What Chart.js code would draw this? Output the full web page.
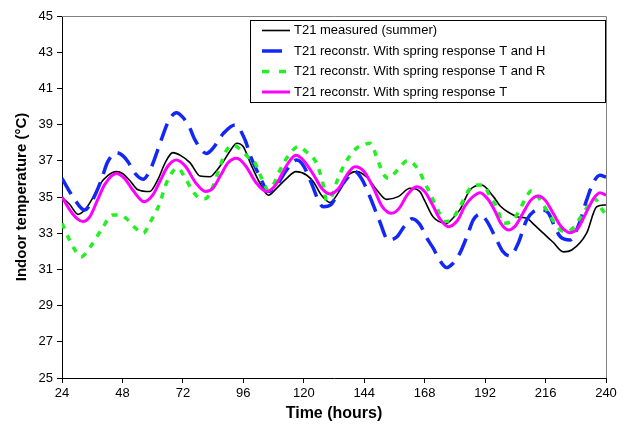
<!DOCTYPE html>
<html>
<head>
<meta charset="utf-8">
<script src="https://cdn.jsdelivr.net/npm/chart.js@4/dist/chart.umd.min.js"></script>
<style>
  html, body { margin: 0; padding: 0; background: #fff; }
  #wrap { width: 629px; height: 428px; }
</style>
</head>
<body>
<div id="wrap"><canvas id="chart" width="629" height="428"></canvas></div>
<script>
// values: hours and indoor temperature (°C)
const xTicks = [24, 48, 72, 96, 120, 144, 168, 192, 216, 240];
const yTicks = [25, 27, 29, 31, 33, 35, 37, 39, 41, 43, 45];

const measuredHours = [24, 27, 30.4, 33, 36, 39, 42.3, 45.6, 48, 51, 54.2, 58.8, 62, 65, 68, 71, 74.8, 78.8, 82.8, 85, 88, 91, 93.4, 96, 99, 102.6, 105.9, 109.2, 113, 116.9, 121.2, 124, 127, 130.4, 134, 137, 141, 145, 149, 152.9, 157.5, 162.2, 166.1, 168, 171.4, 176.7, 179, 182, 186, 190.6, 195.3, 198, 201.9, 205, 208.5, 212, 215.1, 219, 223.1, 226.4, 232.3, 236.3, 240];
const measuredTemp = [34.98, 34.6, 34.04, 34.28, 34.9, 35.7, 36.2, 36.4, 36.3, 35.9, 35.4, 35.3, 35.94, 36.9, 37.45, 37.3, 36.9, 36.16, 36.12, 36.4, 36.95, 37.6, 37.97, 37.78, 36.8, 35.76, 35.1, 35.48, 36.0, 36.4, 36.2, 35.8, 35.1, 34.7, 35.3, 36.12, 36.4, 36.1, 35.39, 34.87, 35.02, 35.48, 35.3, 34.8, 33.9, 33.55, 33.8, 34.3, 35.39, 35.66, 35.02, 34.5, 34.1, 33.9, 33.82, 33.4, 33.0, 32.5, 31.97, 32.07, 33.0, 34.46, 34.56];

const thHours = [24, 28.4, 33, 36, 39.6, 42, 45.6, 48, 50.2, 53, 56.2, 59, 63.4, 66, 69.4, 72, 74.8, 76.8, 81.4, 84, 88, 92.7, 96.7, 99, 102.6, 105.9, 109, 113.2, 117.2, 120, 122.5, 127.8, 131, 134, 137, 140.3, 143, 146.3, 150, 153.6, 157, 160, 163, 166, 169, 171.4, 174, 176.7, 179, 182, 185, 187.3, 190, 193, 196.6, 199, 201.9, 205, 208.5, 211.2, 214, 217.2, 219.5, 221.9, 225.7, 229, 232.3, 235, 237.6, 240];
const thTemp = [36.03, 35.0, 34.28, 34.8, 35.94, 36.9, 37.45, 37.3, 36.95, 36.3, 35.98, 36.5, 38.15, 39.1, 39.66, 39.4, 38.8, 38.15, 37.41, 37.7, 38.5, 38.98, 38.15, 37.2, 36.12, 35.3, 35.6, 36.5, 37.04, 36.7, 35.94, 34.46, 34.6, 35.4, 36.0, 36.4, 36.0, 35.0, 33.7, 32.62, 32.8, 33.4, 33.8, 33.5, 32.7, 32.17, 31.5, 31.1, 31.3, 31.9, 32.9, 33.73, 34.06, 33.6, 32.62, 32.0, 31.74, 32.4, 33.73, 34.19, 34.3, 34.1, 33.4, 32.8, 32.62, 33.4, 34.83, 35.8, 36.2, 36.1];

const trHours = [24, 27, 29.5, 31.7, 35, 39.6, 44.2, 47, 50.2, 53, 56.2, 59, 62.8, 65, 67.4, 70, 72.7, 76, 78, 80.8, 84, 86.5, 89.4, 92, 95, 98, 100, 103.3, 105.9, 108, 110.6, 114, 117.8, 121, 125.1, 127.5, 129.1, 131, 133, 136.4, 141, 144, 146.3, 149.6, 151.5, 153.6, 156, 158.9, 161, 163, 165.5, 168, 170.8, 173.5, 176.1, 179, 182, 186, 189, 191.3, 194, 196.6, 199.2, 202, 205, 208, 210.4, 213, 216.4, 219, 221.9, 224.5, 227, 230, 233.7, 235.5, 238, 240];
const trTemp = [33.55, 32.62, 32.0, 31.7, 32.2, 33.18, 34.0, 34.0, 33.73, 33.3, 33.0, 33.6, 34.65, 35.6, 36.3, 36.6, 36.1, 35.3, 35.0, 34.9, 35.6, 36.6, 37.6, 37.87, 37.6, 37.2, 37.04, 36.03, 35.39, 35.7, 36.5, 37.3, 37.78, 37.5, 36.86, 35.8, 34.8, 35.0, 35.8, 36.86, 37.7, 37.9, 37.97, 36.95, 36.3, 36.03, 36.3, 36.77, 37.0, 36.9, 36.5, 35.8, 35.0, 34.2, 33.64, 33.8, 34.46, 35.48, 35.66, 35.66, 35.0, 34.46, 33.55, 33.6, 34.1, 34.9, 35.35, 35.0, 34.28, 33.7, 33.18, 33.08, 33.3, 33.9, 34.65, 34.9, 34.4, 34.0];

const tHours = [24, 27, 30, 32.3, 35, 38, 41, 45.6, 49, 52, 56.6, 60, 63, 66, 69.4, 73, 77, 81, 84, 87, 90, 93.4, 97, 101, 105.3, 109, 113, 116.9, 120, 124, 127, 130.4, 134, 137, 140.3, 144, 148, 151, 154.9, 158, 161, 164.8, 168, 171, 174, 177.4, 181, 184, 187, 190, 193, 196, 198, 201.2, 204, 207, 210, 213.1, 216, 219, 222, 225.7, 229, 232, 235, 237.6, 240];
const tTemp = [35.0, 34.3, 33.8, 33.64, 33.9, 34.8, 35.7, 36.3, 36.0, 35.4, 34.74, 35.1, 35.9, 36.7, 37.04, 36.7, 35.8, 35.3, 35.5, 36.2, 36.9, 37.14, 36.7, 35.8, 35.3, 35.7, 36.7, 37.3, 37.0, 36.2, 35.5, 35.17, 35.5, 36.2, 36.67, 36.4, 35.4, 34.5, 34.1, 34.4, 35.1, 35.57, 35.3, 34.6, 33.8, 33.36, 33.7, 34.5, 35.0, 35.24, 34.9, 34.2, 33.6, 33.18, 33.4, 34.1, 34.8, 35.06, 34.8, 34.1, 33.4, 33.03, 33.3, 34.1, 34.9, 35.24, 35.1];

const seriesLabels = [
    'T21 measured (summer)',
    'T21 reconstr. With spring response T and H',
    'T21 reconstr. With spring response T and R',
    'T21 reconstr. With spring response T',
];

const FONT = "'Liberation Sans', Arial, sans-serif";

function pts(xs, ys) {
    return xs.map((x, i) => ({ x, y: ys[i] }));
}

// Excel-like legend box sitting inside the plot area
const boxLegend = {
    id: 'boxLegend',
    afterDraw(chart) {
        const ctx = chart.ctx;
        const left = 250.5, top = 20.5, w = 355, h = 82;
        ctx.save();
        ctx.fillStyle = '#fff';
        ctx.fillRect(left, top, w, h);
        ctx.strokeStyle = '#000';
        ctx.lineWidth = 1;
        ctx.strokeRect(left, top, w, h);
        ctx.font = '13px ' + FONT;
        ctx.textBaseline = 'middle';
        chart.data.datasets.forEach((ds, i) => {
            const y = top + 10 + i * 20.5;
            // the dashed series show one dash in the key, like the source
            const dashed = ds.borderDash && ds.borderDash.length;
            const sampleEnd = dashed && ds.borderDash[0] > 10 ? 282 : 290;
            ctx.beginPath();
            ctx.strokeStyle = ds.borderColor;
            ctx.lineWidth = ds.borderWidth;
            ctx.setLineDash(dashed && ds.borderDash[0] < 10 ? [7, 10] : []);
            ctx.moveTo(262, y);
            ctx.lineTo(sampleEnd, y);
            ctx.stroke();
            ctx.setLineDash([]);
            ctx.fillStyle = '#000';
            ctx.fillText(ds.label, 294, y);
        });
        ctx.restore();
    },
};

// gray plot-area border on top and right
const plotFrame = {
    id: 'plotFrame',
    beforeDatasetsDraw(chart) {
        const { ctx, chartArea: a } = chart;
        ctx.save();
        ctx.strokeStyle = '#808080';
        ctx.lineWidth = 1;
        ctx.beginPath();
        ctx.moveTo(a.left, a.top + 0.5);
        ctx.lineTo(a.right + 0.5, a.top + 0.5);
        ctx.lineTo(a.right + 0.5, a.bottom);
        ctx.stroke();
        ctx.restore();
    },
};

new Chart(document.getElementById('chart'), {
    type: 'line',
    data: {
        datasets: [
            {
                label: seriesLabels[0],
                data: pts(measuredHours, measuredTemp),
                borderColor: '#000000',
                borderWidth: 1.6,
                order: 4,
            },
            {
                label: seriesLabels[1],
                data: pts(thHours, thTemp),
                borderColor: '#1428f5',
                borderWidth: 3.5,
                borderDash: [18, 9],
                order: 3,
            },
            {
                label: seriesLabels[2],
                data: pts(trHours, trTemp),
                borderColor: '#22f022',
                borderWidth: 3.5,
                borderDash: [6, 7],
                order: 2,
            },
            {
                label: seriesLabels[3],
                data: pts(tHours, tTemp),
                borderColor: '#ff00ff',
                borderWidth: 3,
                order: 1,
            },
        ],
    },
    options: {
        responsive: false,
        animation: false,
        layout: { padding: { top: 16, right: 23, left: 0, bottom: 0 } },
        elements: {
            point: { radius: 0 },
            line: { cubicInterpolationMode: 'monotone', fill: false },
        },
        plugins: {
            legend: { display: false },
            tooltip: { enabled: false },
        },
        scales: {
            x: {
                type: 'linear',
                min: 24,
                max: 240,
                afterBuildTicks: (axis) => { axis.ticks = xTicks.map((v) => ({ value: v })); },
                afterFit: (axis) => { axis.height = 50; },
                grid: { drawOnChartArea: false, tickLength: 5, color: '#000' },
                border: { color: '#000', width: 1 },
                ticks: { color: '#000', font: { family: FONT, size: 13 }, padding: 3, maxRotation: 0 },
                title: {
                    display: true,
                    text: 'Time (hours)',
                    color: '#000',
                    font: { family: FONT, size: 16, weight: 'bold' },
                    padding: { top: 0, bottom: 5 },
                },
            },
            y: {
                min: 25,
                max: 45,
                afterBuildTicks: (axis) => { axis.ticks = yTicks.map((v) => ({ value: v })); },
                afterFit: (axis) => { axis.width = 62; },
                grid: { drawOnChartArea: false, tickLength: 5, color: '#000' },
                border: { color: '#000', width: 1 },
                ticks: { color: '#000', font: { family: FONT, size: 13 }, padding: 4 },
                title: {
                    display: true,
                    text: 'Indoor temperature (°C)',
                    color: '#000',
                    font: { family: FONT, size: 15, weight: 'bold' },
                    padding: { top: 13, bottom: 4 },
                },
            },
        },
    },
    plugins: [plotFrame, boxLegend],
});
</script>
</body>
</html>
